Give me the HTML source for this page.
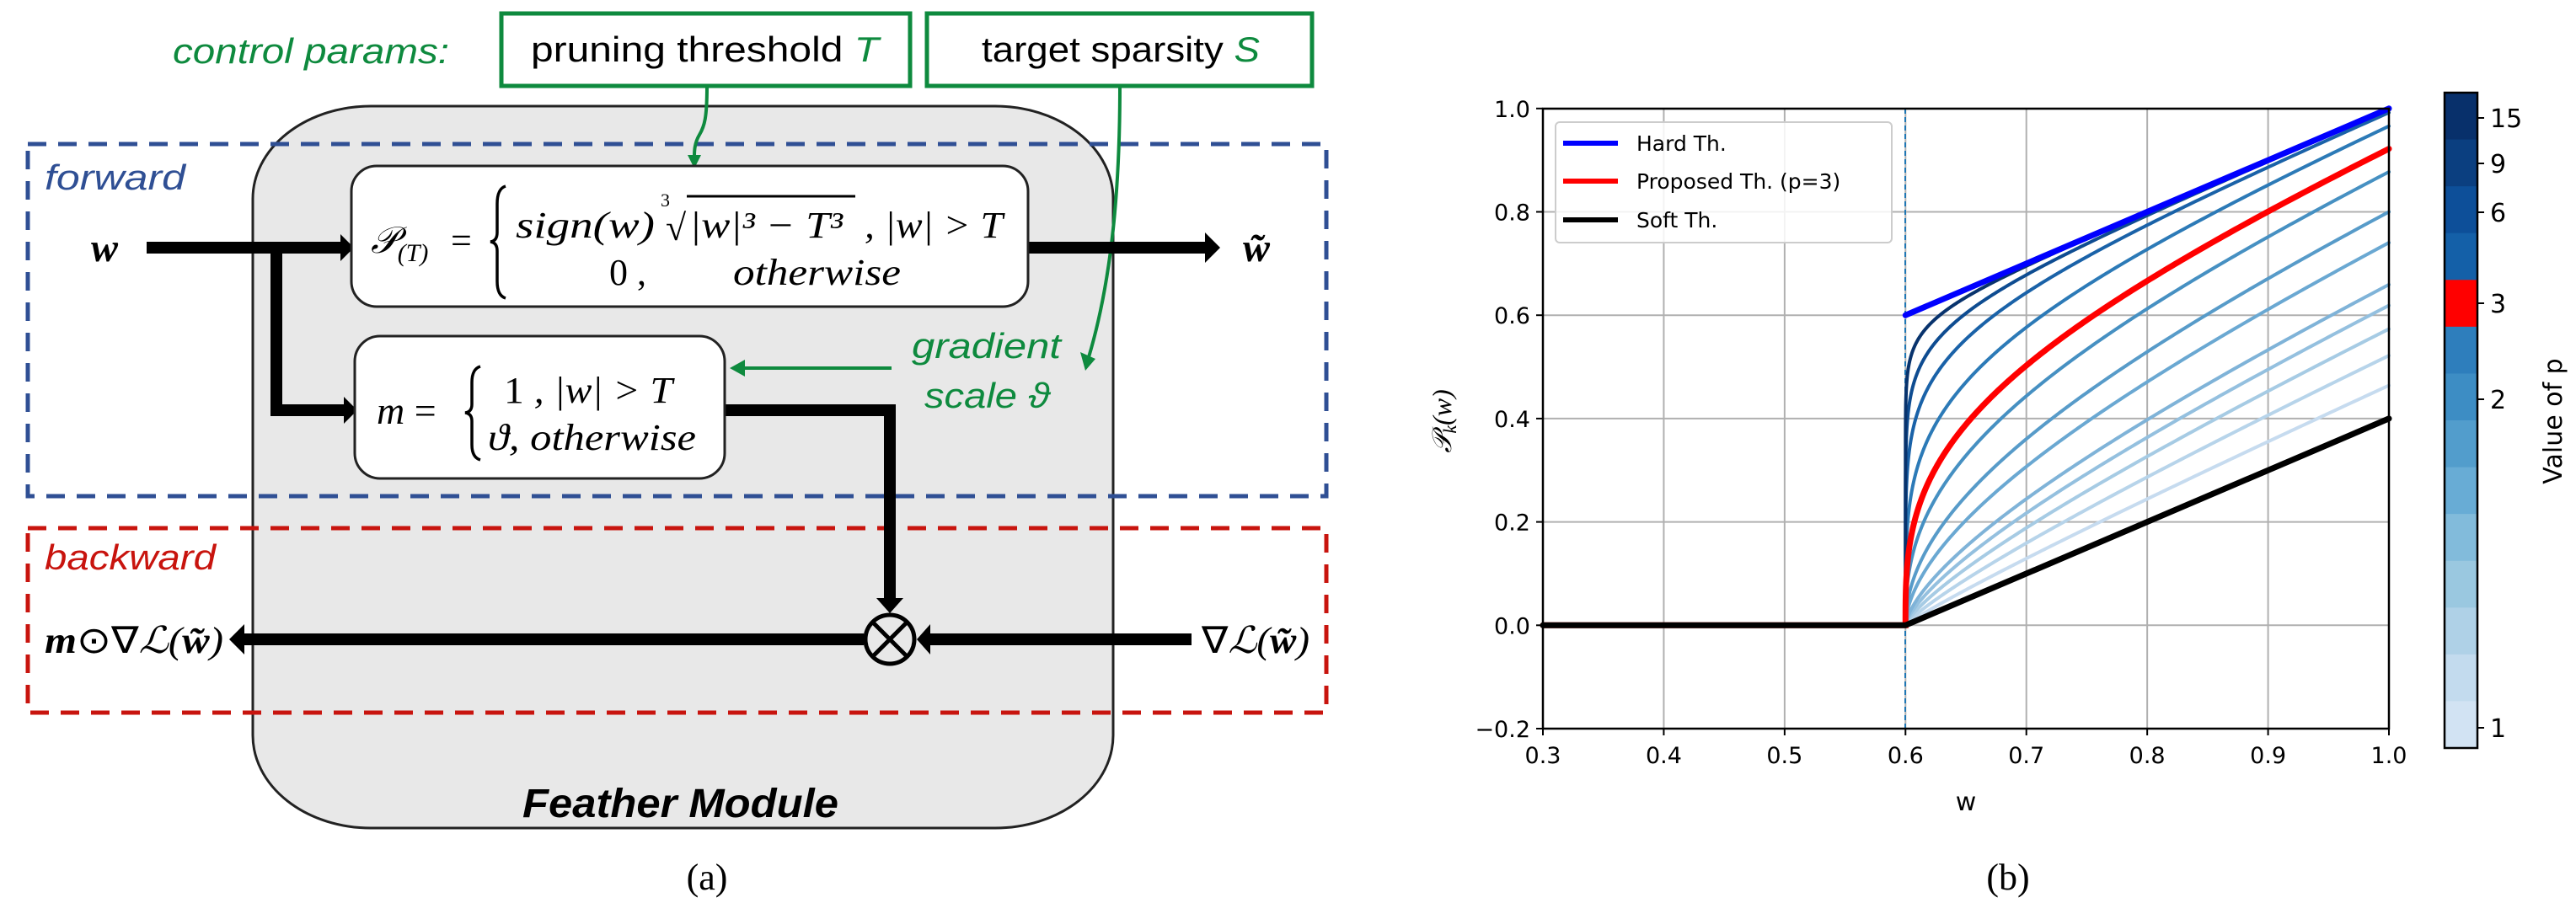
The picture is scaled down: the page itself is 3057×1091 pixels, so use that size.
<!DOCTYPE html>
<html><head><meta charset="utf-8"><style>
html,body{margin:0;padding:0;background:#fff;}
svg{display:block;}
</style></head><body>
<svg id="s" width="3057" height="1091" viewBox="0 0 3057 1091" xmlns="http://www.w3.org/2000/svg">
<rect width="3057" height="1091" fill="#fff"/>
<!-- gray module -->
<rect x="300" y="126" width="1021" height="857" rx="140" ry="110" fill="#e8e8e8" stroke="#222" stroke-width="3"/>
<!-- dashed boxes -->
<rect x="33" y="171" width="1541" height="418" fill="none" stroke="#2f4f94" stroke-width="5" stroke-dasharray="22,14"/>
<rect x="33" y="627" width="1541" height="219" fill="none" stroke="#c8140e" stroke-width="5" stroke-dasharray="22,14"/>
<g font-family="Liberation Sans, sans-serif" font-style="italic" font-size="42">
<text x="53" y="225" fill="#2f4f94" textLength="167" lengthAdjust="spacingAndGlyphs">forward</text>
<text x="53" y="676" fill="#c8140e" textLength="203" lengthAdjust="spacingAndGlyphs">backward</text>
<text x="205" y="75" fill="#0e8a3e" textLength="328" lengthAdjust="spacingAndGlyphs">control params:</text>
<text x="1082" y="425" fill="#0e8a3e" textLength="177" lengthAdjust="spacingAndGlyphs">gradient</text>
<text x="1097" y="484" fill="#0e8a3e" textLength="149" lengthAdjust="spacingAndGlyphs">scale ϑ</text>
</g>
<!-- control boxes -->
<rect x="595" y="16" width="485" height="86" fill="#fff" stroke="#0e8a3e" stroke-width="5"/>
<rect x="1100" y="16" width="457" height="86" fill="#fff" stroke="#0e8a3e" stroke-width="5"/>
<text x="630" y="73" font-family="Liberation Sans, sans-serif" font-size="42" fill="#000" textLength="413" lengthAdjust="spacingAndGlyphs">pruning threshold <tspan fill="#0e8a3e" font-style="italic">T</tspan></text>
<text x="1165" y="73" font-family="Liberation Sans, sans-serif" font-size="42" fill="#000" textLength="330" lengthAdjust="spacingAndGlyphs">target sparsity <tspan fill="#0e8a3e" font-style="italic">S</tspan></text>
<!-- green arrows -->
<g stroke="#0e8a3e" stroke-width="4" fill="none">
<path d="M839 102 C839 140 836 150 830 160 C824 170 824 180 824 186"/>
<path d="M1329 102 C1329 220 1320 330 1292 424"/>
<path d="M1058 437 L882 437"/>
</g>
<g fill="#0e8a3e">
<polygon points="816,184 832,184 824,200"/>
<polygon points="1282,418 1300,426 1288,440"/>
<polygon points="866,437 884,427 884,447"/>
</g>
<!-- black connectors -->
<g stroke="#000" stroke-width="14" fill="none">
<path d="M174 294 L404 294"/>
<path d="M328 294 L328 487 L408 487"/>
<path d="M1220 294 L1430 294"/>
<path d="M860 487 L1056 487 L1056 712"/>
<path d="M1414 759 L1104 759"/>
<path d="M1025 759 L290 759"/>
</g>
<g fill="#000">
<polygon points="404,278 420,294 404,310"/>
<polygon points="408,471 424,487 408,503"/>
<polygon points="1430,276 1448,294 1430,312"/>
<polygon points="1040,710 1072,710 1056,728"/>
<polygon points="1104,741 1104,777 1088,759"/>
<polygon points="290,741 290,777 272,759"/>
</g>
<circle cx="1056" cy="759" r="29" fill="#e8e8e8" stroke="#000" stroke-width="5"/>
<path d="M1036 739 L1076 779 M1076 739 L1036 779" stroke="#000" stroke-width="5"/>
<!-- formula boxes -->
<rect x="417" y="197" width="803" height="167" rx="30" fill="#fff" stroke="#222" stroke-width="3"/>
<rect x="421" y="399" width="439" height="169" rx="30" fill="#fff" stroke="#222" stroke-width="3"/>
<g fill="none" stroke="#000" stroke-width="3.5">
<path d="M600 221 Q590 224 590 242 L590 276 Q590 286 582 287 Q590 288 590 298 L590 334 Q590 351 600 354"/>
<path d="M570 435 Q560 438 560 454 L560 480 Q560 489 552 490 Q560 491 560 500 L560 528 Q560 543 570 546"/>
</g>
<g font-family="Liberation Serif, serif" font-style="italic" fill="#000">
<text x="440" y="300" font-size="44">𝒫<tspan font-size="30" dy="10">(T)</tspan></text>
<text x="535" y="300" font-size="44" font-style="normal">=</text>
<text x="612" y="282" font-size="44" textLength="165" lengthAdjust="spacingAndGlyphs">sign(w)</text>
<text x="784" y="245" font-size="22" font-style="normal">3</text>
<text x="790" y="285" font-size="44" font-style="normal">√</text>
<line x1="815" y1="233" x2="1015" y2="233" stroke="#000" stroke-width="3"/>
<text x="818" y="282" font-size="44" textLength="182" lengthAdjust="spacingAndGlyphs">|w|³ − T³</text>
<text x="1026" y="282" font-size="44" textLength="164" lengthAdjust="spacingAndGlyphs">, |w| &gt; T</text>
<text x="723" y="338" font-size="44" font-style="normal">0 ,</text>
<text x="870" y="338" font-size="44" textLength="199" lengthAdjust="spacingAndGlyphs">otherwise</text>
<text x="447" y="503" font-size="46">m <tspan font-style="normal">=</tspan></text>
<text x="598" y="478" font-size="44" textLength="200" lengthAdjust="spacingAndGlyphs"><tspan font-style="normal">1</tspan> , |w| &gt; T</text>
<text x="579" y="534" font-size="44" textLength="247" lengthAdjust="spacingAndGlyphs">ϑ, otherwise</text>
<text x="108" y="310" font-size="48" font-weight="bold">w</text>
<text x="1475" y="310" font-size="48" font-weight="bold">w̃</text>
<text x="53" y="775" font-size="44" textLength="212" lengthAdjust="spacingAndGlyphs"><tspan font-weight="bold">m</tspan><tspan font-style="normal">⊙∇</tspan>ℒ(<tspan font-weight="bold">w̃</tspan>)</text>
<text x="1426" y="775" font-size="44" textLength="128" lengthAdjust="spacingAndGlyphs"><tspan font-style="normal">∇</tspan>ℒ(<tspan font-weight="bold">w̃</tspan>)</text>
</g>
<text x="620" y="970" font-family="Liberation Sans, sans-serif" font-style="italic" font-weight="bold" font-size="48" textLength="375" lengthAdjust="spacingAndGlyphs">Feather Module</text>
<text x="839" y="1056" font-family="Liberation Serif, serif" font-size="44" text-anchor="middle">(a)</text>
<text x="2383" y="1056" font-family="Liberation Serif, serif" font-size="44" text-anchor="middle">(b)</text>

<!-- plot -->
<g id="grid" stroke="#b0b0b0" stroke-width="2"></g>
<line x1="2261" y1="129" x2="2261" y2="865" stroke="#1f77b4" stroke-width="2" stroke-dasharray="6,4"/>
<g id="curves" fill="none" stroke-linecap="round"></g>
<rect x="1831" y="129" width="1004" height="736" fill="none" stroke="#000" stroke-width="2.5"/>
<g id="ticks" font-family="DejaVu Sans, sans-serif" font-size="27" fill="#000"></g>
<text x="2333" y="962" font-family="DejaVu Sans, sans-serif" font-size="30" text-anchor="middle">w</text>
<text transform="translate(1722,500) rotate(-90)" font-family="Liberation Serif, serif" font-style="italic" font-size="32" text-anchor="middle">𝒫<tspan font-size="22" dy="6">k</tspan><tspan dy="-6">(w)</tspan></text>
<!-- legend -->
<rect x="1846" y="145" width="399" height="143" rx="5" fill="#fff" fill-opacity="0.85" stroke="#ccc" stroke-width="2"/>
<g stroke-width="6"><line x1="1855" y1="170" x2="1920" y2="170" stroke="#0000ff"/><line x1="1855" y1="215" x2="1920" y2="215" stroke="#ff0000"/><line x1="1855" y1="261" x2="1920" y2="261" stroke="#000"/></g>
<g font-family="DejaVu Sans, sans-serif" font-size="25"><text x="1942" y="179">Hard Th.</text><text x="1942" y="224">Proposed Th. (p=3)</text><text x="1942" y="270">Soft Th.</text></g>
<!-- colorbar -->
<g id="cb"></g>
<rect x="2901" y="110" width="39" height="778" fill="none" stroke="#000" stroke-width="2.5"/>
<g font-family="DejaVu Sans, sans-serif" font-size="30">
<text x="2955" y="151">15</text><text x="2955" y="205">9</text><text x="2955" y="263">6</text><text x="2955" y="371">3</text><text x="2955" y="485">2</text><text x="2955" y="875">1</text>
</g>
<g stroke="#000" stroke-width="2"><line x1="2940" y1="140" x2="2948" y2="140"/><line x1="2940" y1="194" x2="2948" y2="194"/><line x1="2940" y1="252" x2="2948" y2="252"/><line x1="2940" y1="360" x2="2948" y2="360"/><line x1="2940" y1="474" x2="2948" y2="474"/><line x1="2940" y1="864" x2="2948" y2="864"/></g>
<text transform="translate(3040,500) rotate(-90)" font-family="DejaVu Sans, sans-serif" font-size="30" text-anchor="middle">Value of p</text>
</svg>
<script>
(function(){
var NS="http://www.w3.org/2000/svg";
function X(w){return 1831+(w-0.3)*1434.3;}
function Y(v){return 865-(v+0.2)*613.5;}
function el(p,t,a){var e=document.createElementNS(NS,t);for(var k in a)e.setAttribute(k,a[k]);p.appendChild(e);return e;}
var g=document.getElementById('grid'),tk=document.getElementById('ticks');
for(var i=0;i<=7;i++){var w=0.3+i*0.1,x=X(w);el(g,'line',{x1:x,y1:129,x2:x,y2:865});
el(tk,'line',{x1:x,y1:865,x2:x,y2:873,stroke:'#000','stroke-width':2});
var t=el(tk,'text',{x:x,y:906,'text-anchor':'middle'});t.textContent=w.toFixed(1);}
for(var j=0;j<=6;j++){var v=-0.2+j*0.2,y=Y(v);el(g,'line',{x1:1831,y1:y,x2:2835,y2:y});
el(tk,'line',{x1:1823,y1:y,x2:1831,y2:y,stroke:'#000','stroke-width':2});
var t2=el(tk,'text',{x:1816,y:y+10,'text-anchor':'end'});t2.textContent=(Math.abs(v)<1e-9?'0.0':(v<0?'\u22120.2':v.toFixed(1)));}
var c=document.getElementById('curves');
var ps=[1.1,1.2,1.3,1.4,1.5,1.75,2,2.5,3,4,6,9,15];
var cols=['#c6dbef','#b7d4ea','#a6cbe4','#94c0df','#7fb3d8','#6aa8d2','#579bc9','#4690c2','#ff0000','#2c7ab7','#1a62a8','#0e4c91','#08336d'];
function curve(p,col,wd){var d='M'+X(0.3)+' '+Y(0)+' L'+X(0.6)+' '+Y(0);
for(var k=0;k<=300;k++){var tt=k/300,w=0.6+0.4*Math.pow(tt,3);var v=Math.pow(Math.pow(w,p)-Math.pow(0.6,p),1/p);d+=' L'+X(w).toFixed(2)+' '+Y(v).toFixed(2);}
el(c,'path',{d:d,stroke:col,'stroke-width':wd});}
for(var i2=0;i2<ps.length;i2++){if(ps[i2]!==3)curve(ps[i2],cols[i2],4);}
curve(3,'#ff0000',7);
el(c,'path',{d:'M'+X(0.6)+' '+Y(0.6)+' L'+X(1)+' '+Y(1),stroke:'#0000ff','stroke-width':7});
el(c,'path',{d:'M'+X(0.3)+' '+Y(0)+' L'+X(0.6)+' '+Y(0)+' L'+X(1)+' '+Y(0.4),stroke:'#000','stroke-width':7});
var cb=document.getElementById('cb');
var cc=['#08306b','#0b3f80','#0d4f99','#1460a8','#ff0000','#2e7ebc','#3d8dc4','#529dcc','#68acd5','#82bbdb','#9ac8e0','#afd1e7','#c3dbee','#d2e3f3'];
var h=778/14;for(var m=0;m<14;m++)el(cb,'rect',{x:2901,y:110+m*h,width:39,height:h+0.5,fill:cc[m]});
})();
</script>
</body></html>
